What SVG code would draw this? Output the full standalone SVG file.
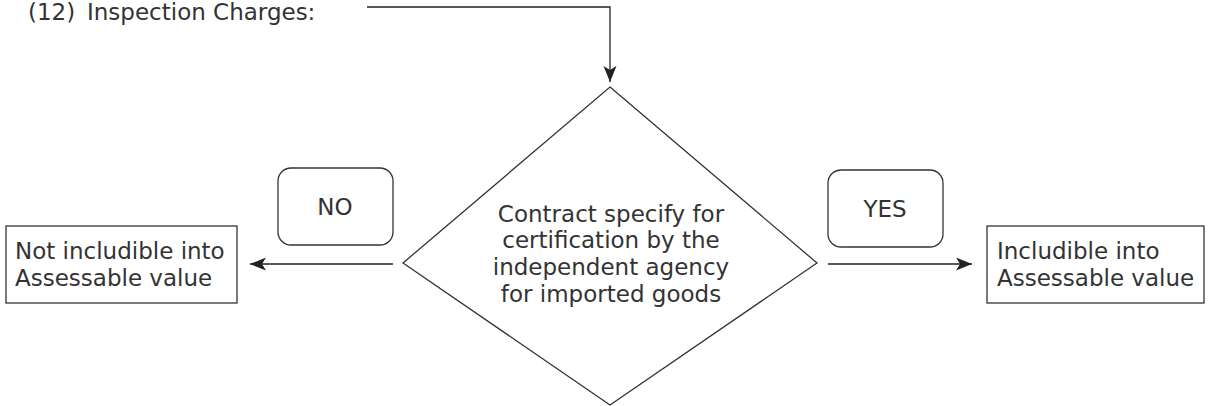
<svg xmlns="http://www.w3.org/2000/svg" width="1209" height="406" viewBox="0 0 1209 406">
<style>
text{font-family:"DejaVu Sans",sans-serif;font-size:23px;fill:#333}
.c{text-anchor:middle}
.box{fill:#fff;stroke:#333;stroke-width:1.3}
.ln{fill:none;stroke:#222;stroke-width:1.3}
</style>
<defs>
<marker id="ah" markerUnits="userSpaceOnUse" markerWidth="18" markerHeight="14" refX="16" refY="6.5" orient="auto">
<path d="M0,0 L16,6.5 L0,13 L4,6.5 Z" fill="#222"/>
</marker>
</defs>
<g id="title">
<text x="28" y="20">(12)</text>
<text x="87" y="20">Inspection Charges:</text>
</g>
<g id="decision">
<polygon class="box" points="610,87 817,263 610,405 403,263"/>
<text class="c" x="611" y="222">Contract specify for</text>
<text class="c" x="611" y="248">certification by the</text>
<text class="c" x="611" y="275">independent agency</text>
<text class="c" x="611" y="302">for imported goods</text>
</g>
<g id="no-label">
<rect class="box" x="278" y="168" width="115" height="77" rx="13"/>
<text class="c" x="335" y="215">NO</text>
</g>
<g id="yes-label">
<rect class="box" x="828" y="170" width="115" height="77" rx="13"/>
<text class="c" x="885" y="217">YES</text>
</g>
<g id="not-includible">
<rect class="box" x="6" y="226" width="231" height="77"/>
<text x="15" y="259">Not includible into</text>
<text x="15" y="286">Assessable value</text>
</g>
<g id="includible">
<rect class="box" x="987" y="226" width="217" height="77"/>
<text x="997" y="259">Includible into</text>
<text x="997" y="286">Assessable value</text>
</g>
<g id="connectors">
<path class="ln" d="M367,7 H610 V82" marker-end="url(#ah)"/>
<path class="ln" d="M393,264 H250" marker-end="url(#ah)"/>
<path class="ln" d="M828,264 H972" marker-end="url(#ah)"/>
</g>
</svg>
